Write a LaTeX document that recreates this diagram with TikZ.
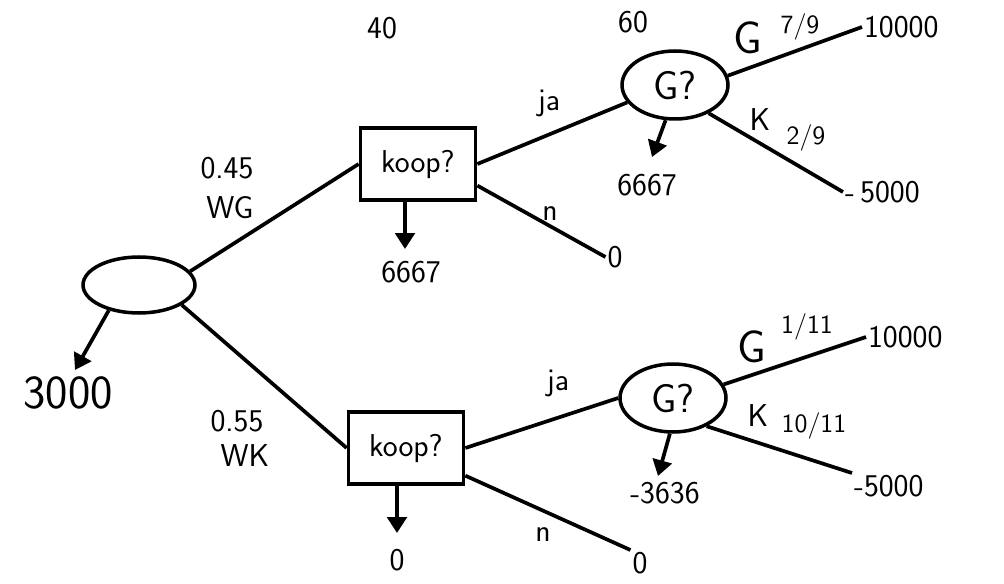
\documentclass[tikz,border=0pt]{standalone}
\usepackage{tikz}
\usetikzlibrary{arrows.meta,shapes.geometric}
\renewcommand{\familydefault}{\sfdefault}

\tikzset{
  chance/.style={draw, ellipse, line width=2pt, minimum width=2.12cm, minimum height=1.36cm, inner sep=0pt, font=\fontsize{23}{26}\selectfont},
  choice/.style={draw, rectangle, line width=2.1pt, minimum width=2.3cm, minimum height=1.45cm, font=\fontsize{18}{21}\selectfont},
  branch/.style={line width=2.1pt},
  payoff/.style={line width=2.1pt, -{Triangle[width=11pt,length=9pt]}},
  lbl/.style={font=\fontsize{18}{21}\selectfont, inner sep=1pt},
  frac/.style={font=\fontsize{15}{18}\selectfont, inner sep=1pt},
  endval/.style={font=\fontsize{18}{21}\selectfont, inner sep=1pt, anchor=west},
  big/.style={font=\fontsize{27}{30}\selectfont}
}

\begin{document}
\begin{tikzpicture}[x=0.02cm, y=-0.02cm]
\useasboundingbox (0,0) rectangle (1004,584);

% Root chance node
\node[chance, minimum width=2.24cm, minimum height=1.12cm] (root) at (139,285) {};
\node[lbl, big] (vroot) at (68,393) {3000};
\coordinate (troot) at (75,370);
\draw[payoff] (root.-140) -- (troot);

% Decision nodes
\node[choice] (koopA) at (418,164) {koop?};
\node[choice] (koopB) at (406,448) {koop?};

% Branches from root
\draw[branch] (root.15) -- (koopA.west);
\draw[branch] (root.-25) -- (koopB.west);
\node[lbl] at (227,168) {0.45};
\node[lbl] at (230,208) {WG};
\node[lbl] at (237,421) {0.55};
\node[lbl] at (245,456) {WK};

% Values of decisions
\node[lbl] (vkoopA) at (411,272) {6667};
\node[lbl] (vkoopB) at (397,560) {0};
\coordinate (tkoopA) at (405,249);
\coordinate (tkoopB) at (397,533);
\draw[payoff] (tkoopA |- koopA.south) -- (tkoopA);
\draw[payoff] (tkoopB |- koopB.south) -- (tkoopB);

% Costs
\node[lbl] at (382,28) {40};
\node[lbl] at (633,22) {60};

% Upper branch
\node[chance] (gA) at (675,85) {G?};
\node[lbl] (nA) at (615,257) {0};
\draw[branch] (koopA.east) -- (gA.200);
\draw[branch] (koopA.-20) -- (nA.west);
\node[lbl] at (549,103) {ja};
\node[lbl] at (550,214) {n};

\node[lbl] (vgA) at (647,185) {6667};
\coordinate (tgA) at (652,157);
\draw[payoff] (gA.-105) -- (tgA);

\node[endval] (winA) at (862,27) {10000};
\node[endval] (lossA) at (843,192) {-\,5000};
\draw[branch] (gA.10) -- (winA.west);
\draw[branch] (gA.-40) -- (lossA.west);
\node[lbl, font=\fontsize{26}{28}\selectfont] at (748,38) {G};
\node[frac] at (800,27) {7/9};
\node[lbl] at (760,120) {K};
\node[frac] at (806,138) {2/9};

% Lower branch
\node[chance] (gB) at (673,398) {G?};
\node[lbl] (nB) at (640,563) {0};
\draw[branch] (koopB.east) -- (gB.west);
\draw[branch] (koopB.-25) -- (nB.north west);
\node[lbl] at (558,383) {ja};
\node[lbl] at (543,535) {n};

\node[lbl] (vgB) at (665,493) {-3636};
\coordinate (tgB) at (658,476);
\draw[payoff] (gB.-95) -- (tgB);

\node[endval] (winB) at (866,337) {10000};
\node[endval] (lossB) at (852,486) {-5000};
\draw[branch] (gB.15) -- (winB.west);
\draw[branch] (gB.-40) -- (lossB.north west);
\node[lbl, font=\fontsize{26}{28}\selectfont] at (752,347) {G};
\node[frac] at (807,327) {1/11};
\node[lbl] at (758,416) {K};
\node[frac] at (814,426) {10/11};

\end{tikzpicture}
\end{document}
